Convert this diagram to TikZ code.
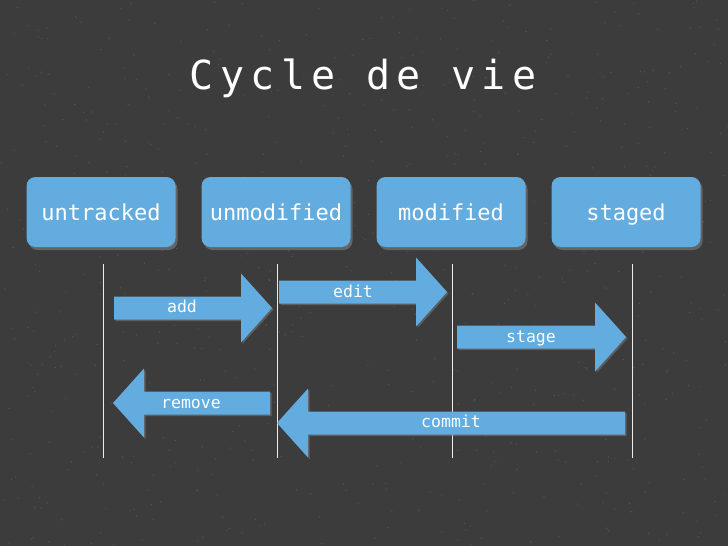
\documentclass[tikz,border=0pt]{standalone}
\usepackage{fontspec}
\usetikzlibrary{shadows}
\newfontfamily\monofont{DejaVu Sans Mono}
\newfontfamily\titlefont[LetterSpace=16]{DejaVu Sans Mono}
\definecolor{slate}{HTML}{3C3C3C}
\definecolor{gitblue}{HTML}{62ACE0}

\begin{document}
\begin{tikzpicture}[x=1pt,y=-1pt,
    state/.style={fill=gitblue,rounded corners=9pt,minimum width=149pt,minimum height=70pt,
        text=white,font=\monofont\fontsize{22}{22}\selectfont,text height=18pt,text depth=2pt,
        drop shadow={shadow xshift=2pt,shadow yshift=-3pt,opacity=.6}},
    lifeline/.style={white!85!gray,line width=1pt},
    fat/.style={fill=gitblue,drop shadow={shadow xshift=1.5pt,shadow yshift=-1.5pt,opacity=.5}},
    act/.style={text=white,font=\monofont\fontsize{16.5}{16.5}\selectfont,text height=12pt,text depth=3pt}]
  \useasboundingbox (0,0) rectangle (728,546);
  \fill[slate] (0,0) rectangle (728,546);
  % speckles
  \pgfmathsetseed{12}
  \foreach \k in {1,...,700}
    \fill[white,opacity=.12] ({rnd*728},{rnd*546}) circle (.7);
  \node[text=white,font=\titlefont\fontsize{40}{40}\selectfont,anchor=base] (title) at (363,89) {Cycle de vie};
  \foreach[count=\i] \s/\dx in {untracked/2,unmodified/1,modified/1,staged/6}{
    \node[state] (b\i) at ({101+175*(\i-1)},212) {\s};
    \draw[lifeline] ([xshift=\dx pt,yshift=-17pt]b\i.south) -- ++(0,194);
  }
  % block arrows
  \foreach \a/\b/\y/\t/\lx/\ly in {114/272/308/add/182/308,279/447/292/edit/353/293,
      457/626/337/stage/531/338,270/113/403/remove/191/404,625/277/423/commit/451/423}{
    \pgfmathsetmacro\h{(\b>\a) ? (\b-31) : (\b+31)}
    \fill[fat] (\a,\y-11.5) -- (\h,\y-11.5) -- (\h,\y-34.5) -- (\b,\y)
      -- (\h,\y+34.5) -- (\h,\y+11.5) -- (\a,\y+11.5) -- cycle;
    \node[act] (\t) at (\lx,\ly) {\t};
  }
\end{tikzpicture}
\end{document}
